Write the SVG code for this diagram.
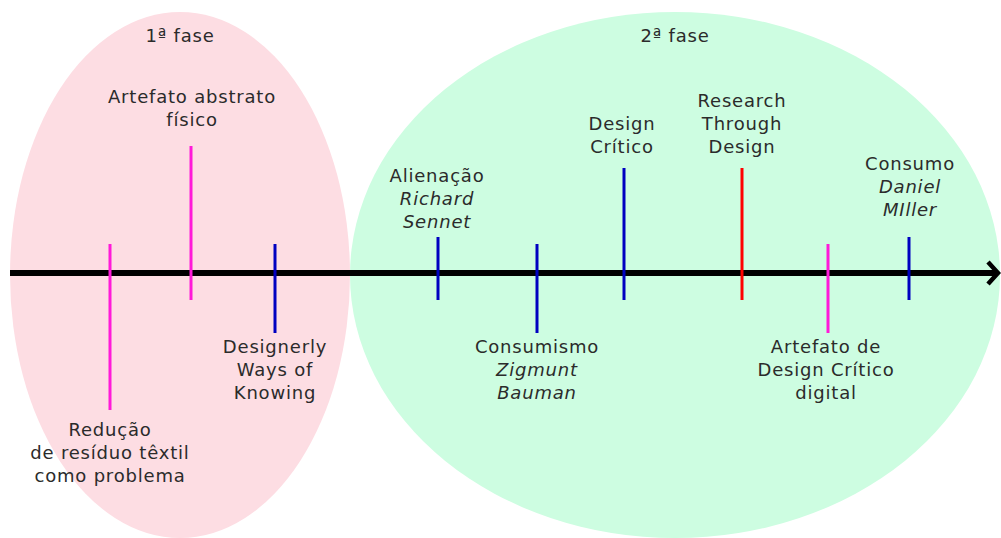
<svg xmlns="http://www.w3.org/2000/svg" width="1001" height="538" viewBox="0 0 1001 538">
  <style>
    text { font-family: "DejaVu Sans", "Noto Sans", sans-serif; font-size: 18px; letter-spacing: 0.8px; fill: #2b2b2b; text-anchor: middle; }
    .it { font-style: italic; }
    .tick { stroke-width: 3; fill: none; }
    .mag { stroke: #ff1ad9; }
    .blu { stroke: #0000c0; }
    .red { stroke: #ff0000; }
  </style>
  <defs>
    <marker id="arrow" markerWidth="16" markerHeight="28" refX="12" refY="14" orient="auto" markerUnits="userSpaceOnUse">
      <path d="M2,3 L12,14 L2,25" fill="none" stroke="#000" stroke-width="4.5"/>
    </marker>
  </defs>

  <!-- phases -->
  <g id="phase1">
    <ellipse cx="180" cy="275" rx="170" ry="263" fill="#fddde3"/>
    <text x="180" y="42">1ª fase</text>
  </g>
  <g id="phase2">
    <ellipse cx="675" cy="275" rx="325" ry="263" fill="#cdfde1"/>
    <text x="675" y="42">2ª fase</text>
  </g>

  <!-- timeline axis -->
  <g id="connectors">
    <line x1="10" y1="273" x2="998" y2="273" stroke="#000" stroke-width="6" marker-end="url(#arrow)"/>
  </g>

  <g id="reducao">
    <line class="tick mag" x1="110" y1="244" x2="110" y2="410"/>
    <text x="110" y="436">Redução</text>
    <text x="110" y="459">de resíduo têxtil</text>
    <text x="110" y="482">como problema</text>
  </g>
  <g id="artefato-fisico">
    <line class="tick mag" x1="191" y1="146" x2="191" y2="300"/>
    <text x="192" y="103">Artefato abstrato</text>
    <text x="192" y="126">físico</text>
  </g>
  <g id="designerly">
    <line class="tick blu" x1="275" y1="244" x2="275" y2="333"/>
    <text x="275" y="353">Designerly</text>
    <text x="275" y="376">Ways of</text>
    <text x="275" y="399">Knowing</text>
  </g>
  <g id="alienacao">
    <line class="tick blu" x1="438" y1="237" x2="438" y2="300"/>
    <text x="437" y="182">Alienação</text>
    <text x="437" y="205" class="it">Richard</text>
    <text x="437" y="228" class="it">Sennet</text>
  </g>
  <g id="consumismo">
    <line class="tick blu" x1="537" y1="244" x2="537" y2="333"/>
    <text x="537" y="353">Consumismo</text>
    <text x="537" y="376" class="it">Zigmunt</text>
    <text x="537" y="399" class="it">Bauman</text>
  </g>
  <g id="design-critico">
    <line class="tick blu" x1="624" y1="168" x2="624" y2="300"/>
    <text x="622" y="130">Design</text>
    <text x="622" y="153">Crítico</text>
  </g>
  <g id="rtd">
    <line class="tick red" x1="742" y1="168" x2="742" y2="300"/>
    <text x="742" y="107">Research</text>
    <text x="742" y="130">Through</text>
    <text x="742" y="153">Design</text>
  </g>
  <g id="artefato-digital">
    <line class="tick mag" x1="828" y1="244" x2="828" y2="333"/>
    <text x="826" y="353">Artefato de</text>
    <text x="826" y="376">Design Crítico</text>
    <text x="826" y="399">digital</text>
  </g>
  <g id="consumo">
    <line class="tick blu" x1="909" y1="237" x2="909" y2="300"/>
    <text x="910" y="170">Consumo</text>
    <text x="910" y="193" class="it">Daniel</text>
    <text x="910" y="216" class="it">MIller</text>
  </g>
</svg>
